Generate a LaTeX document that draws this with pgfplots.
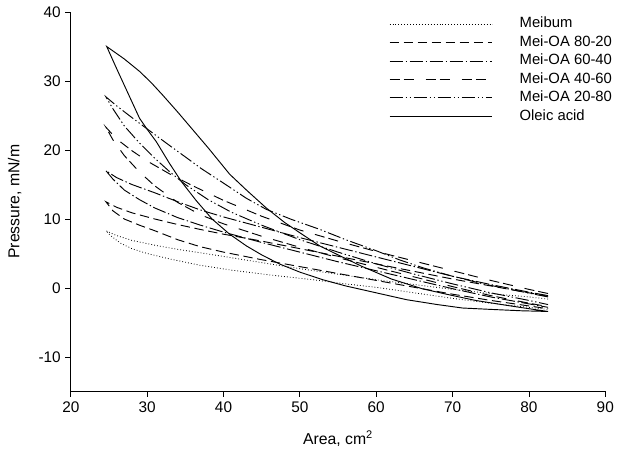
\documentclass[border=0pt]{standalone}
\usepackage{fontspec}
\setmainfont{Liberation Sans}
\usepackage{pgfplots}
\pgfplotsset{compat=1.18}

% line styles read off the legend
\tikzset{
  meibum/.style={black, line width=0.6pt, dash pattern=on 0.6pt off 1.6pt},
  oa8020/.style={black, line width=0.7pt, dash pattern=on 7pt off 3.5pt},
  oa6040/.style={black, line width=0.7pt, dash pattern=on 10pt off 2pt on 1pt off 2pt},
  oa4060/.style={black, line width=0.7pt, dash pattern=on 7.5pt off 3pt on 7.5pt off 9pt},
  oa2080/.style={black, line width=0.7pt, dash pattern=on 10pt off 2pt on 1pt off 2pt on 1pt off 2pt},
  oleic/.style={black, line width=0.7pt},
}

\begin{document}
\begin{tikzpicture}
% page = axis box plus the margins measured on the reference
\useasboundingbox (-53pt,-52pt) rectangle (414pt,293pt);
\begin{axis}[
  scale only axis,
  width=400pt, height=284pt,
  xmin=20, xmax=90, ymin=-15, ymax=40,
  xtick={20,30,...,90}, ytick={-10,0,...,40},
  axis x line=bottom, axis y line=left,
  axis line style={-, line width=0.6pt},
  tick align=outside, major tick length=4pt,
  tick style={black, line width=0.6pt},
  minor tick num=0,
  font=\fontsize{11.8}{14}\selectfont,
  ticklabel style={font=\fontsize{11.5}{14}\selectfont},
  /pgf/number format/assume math mode=true,
  xlabel={Area, cm\textsuperscript{2}},
  ylabel={Pressure, mN/m},
  xlabel style={yshift=-7pt},
  ylabel style={yshift=6pt},
  legend cell align=left,
  legend style={at={(1.0125,0.99)}, anchor=north east, draw=none, fill=none,
    inner sep=0pt, outer sep=0pt,
    font=\fontsize{11.1}{13}\selectfont, row sep=1.3pt,
    nodes={inner xsep=0pt, inner ysep=1pt, text height=8pt, text depth=2.5pt},
    /tikz/every odd column/.append style={column sep=20pt}},
  legend image code/.code={\draw[#1] (0pt,0pt) -- (77pt,0pt);},
]
\addplot[meibum] coordinates {
  (82.5,-1.6)(80,-1.3)(75,-0.8)(70,-0.2)(65,0.5)(60,1.2)(55,2.0)(50,2.8)
  (46,3.5)(41,4.4)(37,5.1)(34,5.6)(31,6.2)(28,6.9)(26,7.6)(24.6,8.3)
  (25.2,7.6)(26.5,6.5)(28,5.7)(30,5.0)(33,4.2)(36.9,3.3)(41,2.6)(46,1.9)
  (51.7,1.2)(56,0.6)(60,0.1)(65,-0.7)(70,-1.5)(75,-2.2)(80,-2.8)(82.5,-3.1)
};
\addlegendentry{Meibum}

\addplot[oa8020] coordinates {
  (82.5,-1.2)(80,-0.7)(75,0.3)(70,1.3)(65,2.4)(60,3.5)(55,4.6)(50,5.7)
  (45,6.8)(40,7.8)(36.9,8.5)(34,9.2)(31,10.0)(28,10.9)(26,11.7)(24.6,12.5)
  (25.5,11.2)(27,10.0)(29,9.1)(31,8.3)(34,7.0)(36.9,6.0)(40,5.2)(45,4.1)
  (50,3.1)(55,2.1)(60,1.1)(65,0.1)(70,-0.9)(75,-1.8)(80,-2.6)(82.5,-3.0)
};
\addlegendentry{Mei-OA 80-20}

\addplot[oa6040] coordinates {
  (82.5,-1.1)(80,-0.6)(75,0.5)(70,1.7)(65,3.1)(60,4.5)(55,5.9)(50,7.3)
  (45,8.8)(40,10.3)(37,11.3)(34,12.5)(31,13.8)(28,15.0)(26,16.0)(24.6,17.0)
  (25.5,15.8)(27,14.2)(29,12.8)(31,11.6)(34,10.2)(37,9.1)(40,8.1)(45,6.6)
  (50,5.2)(55,3.8)(60,2.5)(65,1.2)(70,-0.1)(75,-1.3)(80,-2.3)(82.5,-2.8)
};
\addlegendentry{Mei-OA 60-40}

\addplot[oa4060] coordinates {
  (82.5,-0.8)(80,-0.2)(75,1.1)(70,2.5)(65,3.9)(60,5.3)(55,6.8)(50,8.4)
  (45,10.4)(40,12.7)(36,14.8)(33,16.5)(30,18.4)(28,19.9)(26,21.6)(24.6,23.3)
  (25.5,21.5)(27,19.2)(29,16.8)(31,14.8)(34,12.4)(37,10.6)(40,9.3)(45,7.5)
  (50,5.9)(55,4.4)(60,3.0)(65,1.6)(70,0.2)(75,-1.1)(80,-2.2)(82.5,-2.7)
};
\addlegendentry{Mei-OA 40-60}

\addplot[oa2080] coordinates {
  (82.5,-1.3)(78,-0.3)(74,0.6)(70,1.7)(66.2,2.9)(63,4.1)(60,5.4)(56,7.0)
  (52.6,8.5)(49,9.9)(45.6,11.4)(43,13.0)(40,15.2)(37.1,17.3)(35,19.0)
  (33,20.6)(30.8,22.4)(28,24.7)(26,26.4)(24.6,27.7)
  (25.5,26.0)(27,23.5)(29,21.0)(31,18.8)(33,16.8)(35,15.0)(38,12.8)(41,11.0)
  (45,9.1)(50,7.0)(55,5.2)(60,3.5)(65,2.0)(70,0.6)(75,-0.7)(80,-1.8)(82.5,-2.4)
};
\addlegendentry{Mei-OA 20-80}

\addplot[oleic] coordinates {
  (82.5,-3.4)(80,-3.0)(77,-2.5)(73,-1.8)(69.2,-0.9)(66,-0.1)(62,1.3)(58,3.2)
  (55,4.8)(52.6,6.1)(50,8.0)(48,9.5)(45.6,11.6)(43,14.2)(40.8,16.5)(38,20.3)
  (36,22.9)(34,25.5)(32,28.0)(30.5,29.8)(29,31.4)(27,33.2)(24.7,35.0)
  (26,31.8)(27.5,28.2)(29,24.6)(30,23.0)(31.2,21.2)(32.9,18.1)(34.5,15.4)
  (36.4,12.7)(38.5,10.0)(40.8,7.8)(43,6.1)(45,4.8)(47.3,3.5)(50,2.3)(53,1.2)
  (56,0.3)(60.4,-0.8)(64,-1.7)(68,-2.4)(71.3,-2.9)(75,-3.1)(79,-3.3)(82.5,-3.4)
};
\addlegendentry{Oleic acid}
\end{axis}
\end{tikzpicture}
\end{document}
